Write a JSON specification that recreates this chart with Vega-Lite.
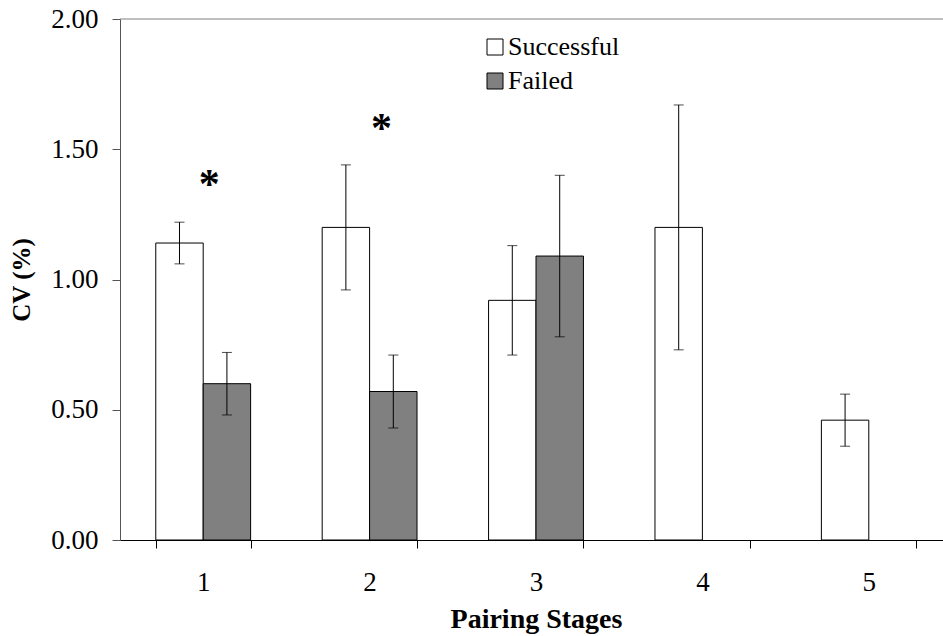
{
  "$schema": "https://vega.github.io/schema/vega-lite/v6.json",
  "width": 823,
  "height": 521,
  "autosize": {"type": "none"},
  "padding": {"left": 120, "top": 19, "right": 0, "bottom": 96},
  "background": "white",
  "config": {
    "view": {"stroke": null},
    "font": "Liberation Serif",
    "text": {"font": "Liberation Serif"},
    "legend": {"labelFont": "Liberation Serif"},
    "axis": {"grid": false, "labelFont": "Liberation Serif", "titleFont": "Liberation Serif", "labelColor": "black", "titleColor": "black"}
  },
  "datasets": {
    "bars": [
      {"stage": "1", "group": "Successful", "cv": 1.14, "lo": 1.06, "hi": 1.22},
      {"stage": "1", "group": "Failed", "cv": 0.60, "lo": 0.48, "hi": 0.72},
      {"stage": "2", "group": "Successful", "cv": 1.20, "lo": 0.96, "hi": 1.44},
      {"stage": "2", "group": "Failed", "cv": 0.57, "lo": 0.43, "hi": 0.71},
      {"stage": "3", "group": "Successful", "cv": 0.92, "lo": 0.71, "hi": 1.13},
      {"stage": "3", "group": "Failed", "cv": 1.09, "lo": 0.78, "hi": 1.40},
      {"stage": "4", "group": "Successful", "cv": 1.20, "lo": 0.73, "hi": 1.67},
      {"stage": "5", "group": "Successful", "cv": 0.46, "lo": 0.36, "hi": 0.56}
    ],
    "star1": [{"stage": "1", "y": 1.30, "label": "*"}],
    "star2": [{"stage": "2", "y": 1.516, "label": "*"}],
    "top": [{"y": 2.0}]
  },
  "layer": [
    {
      "data": {"name": "top"},
      "mark": {"type": "rule", "color": "#808080", "strokeWidth": 1},
      "encoding": {"y": {"field": "y", "type": "quantitative", "scale": {"domain": [0, 2]}}}
    },
    {
      "data": {"name": "bars"},
      "mark": {"type": "bar", "stroke": "black", "strokeWidth": 1},
      "encoding": {
        "x": {
          "field": "stage", "type": "nominal",
          "scale": {"domain": ["1", "2", "3", "4", "5"], "range": [0, 832], "paddingInner": 0.43, "paddingOuter": 0.215},
          "axis": {"title": "Pairing Stages", "titleFontSize": 28, "titleFontWeight": "bold", "labelAngle": 0, "labelFontSize": 27, "labelPadding": 21, "titlePadding": 10, "tickBand": "extent", "tickSize": 8, "tickColor": "black", "domainColor": "black"}
        },
        "xOffset": {"field": "group", "type": "nominal", "scale": {"domain": ["Successful", "Failed"], "paddingInner": 0, "paddingOuter": 0}},
        "y": {
          "field": "cv", "type": "quantitative",
          "scale": {"domain": [0, 2]},
          "axis": {"title": "CV (%)", "titleFontSize": 25, "titleFontWeight": "bold", "titlePadding": 16, "format": ".2f", "values": [0, 0.5, 1, 1.5, 2], "labelFontSize": 27, "labelPadding": 14, "tickSize": 8, "tickColor": "#555555", "domainColor": "#555555"}
        },
        "fill": {
          "field": "group", "type": "nominal",
          "scale": {"domain": ["Successful", "Failed"], "range": ["white", "#808080"]},
          "legend": {"orient": "none", "legendX": 362, "legendY": 15, "title": null, "symbolType": "square", "symbolSize": 256, "symbolStrokeColor": "black", "symbolStrokeWidth": 1, "labelFontSize": 26, "labelColor": "black", "rowPadding": 8, "labelOffset": 0}
        }
      }
    },
    {
      "data": {"name": "bars"},
      "mark": {"type": "rule", "color": "black", "strokeWidth": 1},
      "encoding": {
        "x": {"field": "stage", "type": "nominal"},
        "xOffset": {"field": "group", "type": "nominal"},
        "y": {"field": "lo", "type": "quantitative"},
        "y2": {"field": "hi"}
      }
    },
    {
      "data": {"name": "bars"},
      "mark": {"type": "tick", "color": "black", "size": 10, "thickness": 1},
      "encoding": {
        "x": {"field": "stage", "type": "nominal"},
        "xOffset": {"field": "group", "type": "nominal"},
        "y": {"field": "lo", "type": "quantitative"}
      }
    },
    {
      "data": {"name": "bars"},
      "mark": {"type": "tick", "color": "black", "size": 10, "thickness": 1},
      "encoding": {
        "x": {"field": "stage", "type": "nominal"},
        "xOffset": {"field": "group", "type": "nominal"},
        "y": {"field": "hi", "type": "quantitative"}
      }
    },
    {
      "data": {"name": "star1"},
      "mark": {"type": "text", "fontSize": 42, "fontWeight": "bold", "baseline": "alphabetic", "align": "center", "dx": 6, "dy": -3, "color": "black"},
      "encoding": {
        "x": {"field": "stage", "type": "nominal"},
        "y": {"field": "y", "type": "quantitative"},
        "text": {"field": "label"}
      }
    },
    {
      "data": {"name": "star2"},
      "mark": {"type": "text", "fontSize": 42, "fontWeight": "bold", "baseline": "alphabetic", "align": "center", "dx": 12, "dy": -3, "color": "black"},
      "encoding": {
        "x": {"field": "stage", "type": "nominal"},
        "y": {"field": "y", "type": "quantitative"},
        "text": {"field": "label"}
      }
    }
  ]
}
